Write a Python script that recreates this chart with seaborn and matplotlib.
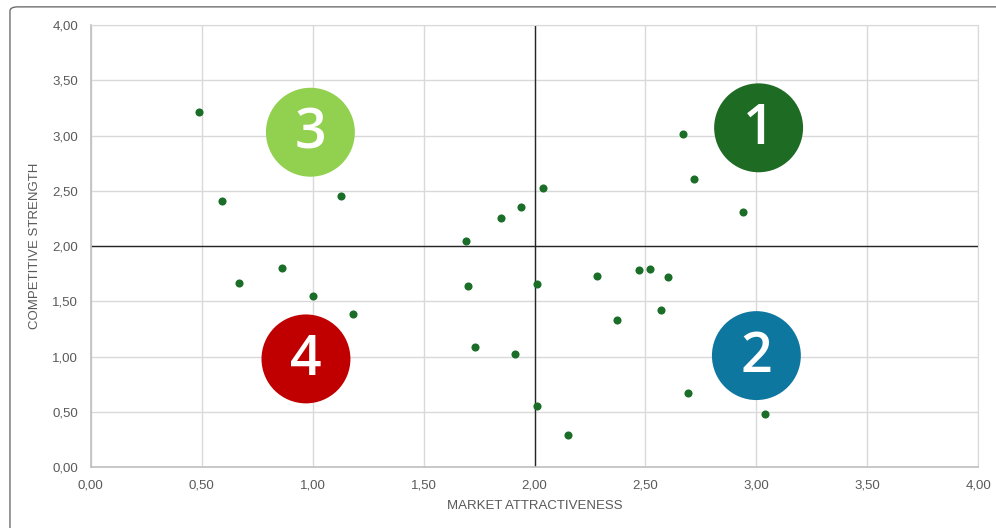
import matplotlib
matplotlib.use("Agg")
import matplotlib.pyplot as plt
import seaborn as sns
import pandas as pd
from matplotlib.patches import FancyBboxPatch
from matplotlib.ticker import FuncFormatter

# data
market_attractiveness = [0.49, 0.59, 1.13, 1.69, 1.85, 1.94, 2.04, 2.67, 2.72, 2.94,
                         0.67, 0.86, 1.00, 1.18, 1.70, 1.73, 1.91, 2.01, 2.28, 2.47,
                         2.52, 2.60, 2.37, 2.57, 2.69, 3.04, 2.01, 2.15]
competitive_strength = [3.21, 2.41, 2.45, 2.05, 2.25, 2.35, 2.53, 3.01, 2.61, 2.31,
                        1.67, 1.80, 1.55, 1.39, 1.64, 1.09, 1.02, 1.66, 1.73, 1.78,
                        1.79, 1.72, 1.33, 1.42, 0.67, 0.48, 0.55, 0.29]

quadrant_labels = ["1", "2", "3", "4"]
quadrant_x = [3.01, 3.00, 0.99, 0.97]
quadrant_y = [3.07, 1.01, 3.03, 0.98]
quadrant_colors = ["#1e6b24", "#0e77a0", "#92d050", "#c00000"]

df = pd.DataFrame({"x": market_attractiveness, "y": competitive_strength})

sns.set_style("white")
plt.rcParams["font.family"] = ["Liberation Sans Narrow", "Liberation Sans", "DejaVu Sans"]

fig = plt.figure(figsize=(9.96, 5.28), dpi=100)
ax = fig.add_axes([0.0911, 0.115, 0.8911, 0.8377])

# chart frame like the spreadsheet chart area
frame = FancyBboxPatch((0.010, -0.05), 1.2, 1.037, boxstyle="round,pad=0,rounding_size=0.008",
                       transform=fig.transFigure, fill=False, edgecolor="#6e6e6e", linewidth=1.0,
                       zorder=-5)
fig.patches.append(frame)

ax.set_xlim(0, 4)
ax.set_ylim(0, 4)
ax.set_xticks([i * 0.5 for i in range(9)])
ax.set_yticks([i * 0.5 for i in range(9)])
ax.grid(True, color="#d9d9d9", linewidth=1)
ax.set_axisbelow(True)
for side in ["top", "right"]:
    ax.spines[side].set_color("#d9d9d9")
for side in ["left", "bottom"]:
    ax.spines[side].set_color("#bfbfbf")
    ax.spines[side].set_linewidth(1.2)

ax.axvline(2, color="#262626", linewidth=1, zorder=2)
ax.axhline(2, color="#262626", linewidth=1, zorder=2)

# quadrant badges
badges = pd.DataFrame({"x": quadrant_x, "y": quadrant_y, "q": quadrant_labels})
sns.scatterplot(data=badges, x="x", y="y", hue="q", palette=quadrant_colors, s=4100,
                linewidth=0, legend=False, ax=ax, zorder=3)
for lab, bx, by in zip(quadrant_labels, quadrant_x, quadrant_y):
    ax.text(bx, by - 0.02, lab, color="white", fontsize=40, fontweight="semibold",
            ha="center", va="center", family=["Open Sans", "DejaVu Sans"], zorder=4)

sns.scatterplot(data=df, x="x", y="y", color="#1a6e27", s=34, linewidth=0, ax=ax, zorder=5)

fmt = FuncFormatter(lambda v, p: f"{v:.2f}".replace(".", ","))
ax.xaxis.set_major_formatter(fmt)
ax.yaxis.set_major_formatter(fmt)
ax.tick_params(axis="both", labelsize=9.5, colors="#595959", length=0, pad=9)

ax.set_xlabel("MARKET ATTRACTIVENESS", fontsize=9.5, color="#595959", labelpad=6)
ax.set_ylabel("COMPETITIVE STRENGTH", fontsize=9.5, color="#595959", labelpad=8)

fig.savefig("out.png", dpi=100)
